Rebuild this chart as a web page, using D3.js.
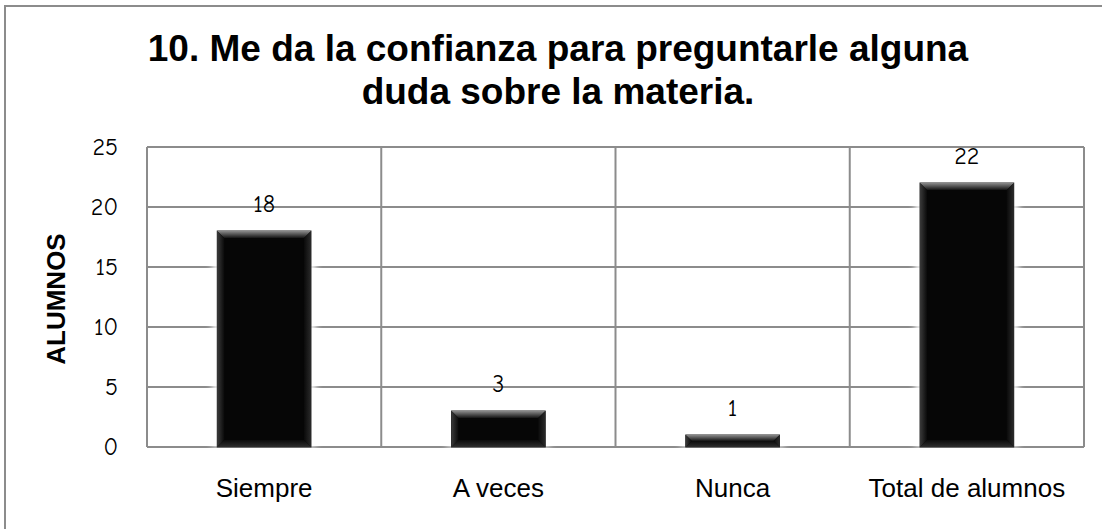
<!DOCTYPE html>
<html>
<head>
<meta charset="utf-8">
<script src="https://cdn.jsdelivr.net/npm/d3@7"></script>
<style>
  body { margin: 0; background: #fff; }
</style>
</head>
<body>
<div id="chart"></div>
<script>
const categories = ["Siempre", "A veces", "Nunca", "Total de alumnos"];
const values = [18, 3, 1, 22];
const yTicks = [0, 5, 10, 15, 20, 25];
const titleLines = ["10. Me da la confianza para preguntarle alguna", "duda sobre la materia."];
const yTitle = "ALUMNOS";

const W = 1102, H = 529;
const plot = { left: 147, top: 147, right: 1084, bottom: 447 };
const numFont = "'Comic Sans MS', 'Comic Neue', Lato, sans-serif";

const svg = d3.select("#chart").append("svg")
  .attr("width", W).attr("height", H);

const defs = svg.append("defs");
const glow = defs.append("filter").attr("id", "glow")
  .attr("x", "-30%").attr("y", "-30%").attr("width", "160%").attr("height", "160%");
glow.append("feGaussianBlur").attr("stdDeviation", 3);

const gTop = defs.append("linearGradient").attr("id", "bevTop")
  .attr("x1", 0).attr("y1", 0).attr("x2", 0).attr("y2", 1);
gTop.append("stop").attr("offset", 0).attr("stop-color", "#8a8a8a");
gTop.append("stop").attr("offset", 1).attr("stop-color", "#141414");
const gSide = defs.append("linearGradient").attr("id", "bevSide")
  .attr("x1", 0).attr("y1", 0).attr("x2", 1).attr("y2", 0);
gSide.append("stop").attr("offset", 0).attr("stop-color", "#3a3a3a");
gSide.append("stop").attr("offset", 1).attr("stop-color", "#0a0a0a");
const gSideR = defs.append("linearGradient").attr("id", "bevSideR")
  .attr("x1", 1).attr("y1", 0).attr("x2", 0).attr("y2", 0);
gSideR.append("stop").attr("offset", 0).attr("stop-color", "#2a2a2a");
gSideR.append("stop").attr("offset", 1).attr("stop-color", "#0a0a0a");
const gBot = defs.append("linearGradient").attr("id", "bevBot")
  .attr("x1", 0).attr("y1", 1).attr("x2", 0).attr("y2", 0);
gBot.append("stop").attr("offset", 0).attr("stop-color", "#2e2e2e");
gBot.append("stop").attr("offset", 1).attr("stop-color", "#0c0c0c");

// outer frame
svg.append("rect")
  .attr("x", 5).attr("y", 6).attr("width", W + 20).attr("height", H + 20)
  .attr("fill", "none").attr("stroke", "#8c8c8c").attr("stroke-width", 2);

const x = d3.scaleBand().domain(categories).range([plot.left, plot.right]).padding(0);
const y = d3.scaleLinear().domain([0, 25]).range([plot.bottom, plot.top]);

const gridColor = "#8c8c8c";

// horizontal grid
svg.append("g").selectAll("line").data(yTicks).join("line")
  .attr("x1", plot.left).attr("x2", plot.right)
  .attr("y1", d => y(d)).attr("y2", d => y(d))
  .attr("stroke", gridColor).attr("stroke-width", 2);

// vertical grid at category boundaries
const bounds = categories.map(c => x(c)).concat([plot.right]);
svg.append("g").selectAll("line").data(bounds).join("line")
  .attr("x1", d => d).attr("x2", d => d)
  .attr("y1", plot.top).attr("y2", plot.bottom)
  .attr("stroke", gridColor).attr("stroke-width", 2);

// y tick labels
svg.append("g").selectAll("text").data(yTicks).join("text")
  .attr("x", 118).attr("y", d => y(d))
  .attr("dy", "0.35em")
  .attr("text-anchor", "end")
  .attr("font-family", numFont).attr("font-size", 24)
  .attr("fill", "#000")
  .text(d => d);

// bars
const bw = x.bandwidth() * 0.4;
const bars = svg.append("g").selectAll("g").data(values).join("g")
  .attr("transform", (d, i) => `translate(${x(categories[i]) + (x.bandwidth() - bw) / 2},0)`);

bars.append("rect")
  .attr("x", -5).attr("width", bw + 10)
  .attr("y", d => y(d) - 4).attr("height", d => plot.bottom - y(d) + 4)
  .attr("fill", "#fff").attr("opacity", 0.9).attr("filter", "url(#glow)");

bars.append("rect")
  .attr("x", 0).attr("width", bw)
  .attr("y", d => y(d)).attr("height", d => plot.bottom - y(d))
  .attr("fill", "#060606").attr("stroke", "#222").attr("stroke-width", 1);

const bev = 7;
bars.append("path")
  .attr("fill", "url(#bevTop)")
  .attr("d", d => {
    const t = y(d), h = plot.bottom - t, b = Math.min(bev, h / 2);
    return `M0,${t}L${bw},${t}L${bw - b},${t + b}L${b},${t + b}Z`;
  });
bars.append("path")
  .attr("fill", "url(#bevSide)")
  .attr("d", d => {
    const t = y(d), h = plot.bottom - t, b = Math.min(bev, h / 2);
    return `M0,${t}L${b},${t + b}L${b},${plot.bottom - b}L0,${plot.bottom}Z`;
  });
bars.append("path")
  .attr("fill", "url(#bevSideR)")
  .attr("d", d => {
    const t = y(d), h = plot.bottom - t, b = Math.min(bev, h / 2);
    return `M${bw},${t}L${bw - b},${t + b}L${bw - b},${plot.bottom - b}L${bw},${plot.bottom}Z`;
  });
bars.append("path")
  .attr("fill", "url(#bevBot)")
  .attr("d", d => {
    const t = y(d), h = plot.bottom - t, b = Math.min(bev, h / 2);
    return `M0,${plot.bottom}L${b},${plot.bottom - b}L${bw - b},${plot.bottom - b}L${bw},${plot.bottom}Z`;
  });

// value labels
svg.append("g").selectAll("text").data(values).join("text")
  .attr("x", (d, i) => x(categories[i]) + x.bandwidth() / 2)
  .attr("y", d => y(d) - 19)
  .attr("text-anchor", "middle")
  .attr("font-family", numFont).attr("font-size", 24)
  .attr("fill", "#000")
  .text(d => d);

// x labels
svg.append("g").selectAll("text").data(categories).join("text")
  .attr("x", d => x(d) + x.bandwidth() / 2)
  .attr("y", 497)
  .attr("text-anchor", "middle")
  .attr("font-family", "'Liberation Sans', Arial, sans-serif").attr("font-size", 26)
  .attr("fill", "#000")
  .text(d => d);

// y title
svg.append("text")
  .attr("transform", "translate(65,299) rotate(-90)")
  .attr("text-anchor", "middle")
  .attr("font-family", "'Liberation Sans', Arial, sans-serif")
  .attr("font-size", 26).attr("font-weight", "bold")
  .text(yTitle);

// title
svg.append("g").selectAll("text").data(titleLines).join("text")
  .attr("x", 558)
  .attr("y", (d, i) => 61 + i * 43)
  .attr("text-anchor", "middle")
  .attr("font-family", "'Liberation Sans', Arial, sans-serif")
  .attr("font-size", 37).attr("font-weight", "bold")
  .text(d => d);
</script>
</body>
</html>
